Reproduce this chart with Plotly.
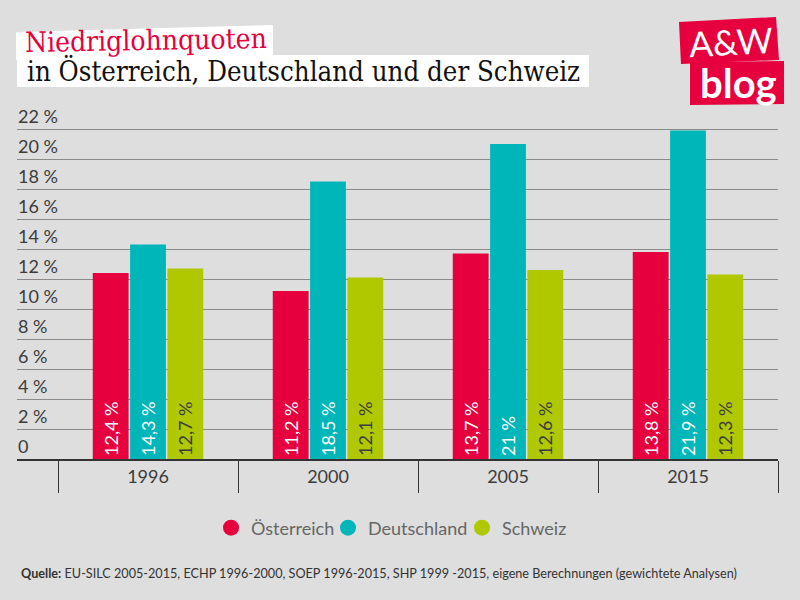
import plotly.graph_objects as go

# Data
years = ['1996', '2000', '2005', '2015']
oesterreich = [12.4, 11.2, 13.7, 13.8]
deutschland = [14.3, 18.5, 21, 21.9]
schweiz = [12.7, 12.1, 12.6, 12.3]
y_ticks = [0, 2, 4, 6, 8, 10, 12, 14, 16, 18, 20, 22]
y_labels = ['0', '2 %', '4 %', '6 %', '8 %', '10 %', '12 %', '14 %', '16 %', '18 %', '20 %', '22 %']

RED = '#e6003e'
TEAL = '#00b6b9'
GREEN = '#afc800'
BG = '#dedede'
DARK = '#3c3c3c'
SANS = 'Lato'
SERIF = 'DejaVu Serif Condensed'


def fmt(values):
    return [f'{v} %'.replace('.', ',') for v in values]


# pixel helpers, the page is 800x600
L, R, T, B = 17, 778, 99, 459


def px(x):
    return (x - L) / (R - L)


def py(y):
    return (B - y) / (B - T)


def poly(points, color):
    path = 'M ' + ' L '.join(f'{px(x):.4f} {py(y):.4f}' for x, y in points) + ' Z'
    return dict(type='path', path=path, xref='paper', yref='paper',
                fillcolor=color, line=dict(width=0), layer='below')


def note(x, y, text, size, color, family=SANS, anchor='left', angle=0):
    return dict(x=px(x), y=py(y), xref='paper', yref='paper', text=text, showarrow=False,
                xanchor=anchor, yanchor='middle', textangle=angle,
                font=dict(size=size, color=color, family=family))


def legend_at(x):
    return dict(x=px(x), xanchor='left', y=py(528), yanchor='middle',
                font=dict(size=18, color='#666666', family=SANS), bgcolor='rgba(0,0,0,0)')


fig = go.Figure()

for name, values, color, text_color, legend_id in [('Österreich', oesterreich, RED, 'white', 'legend'),
                                                   ('Deutschland', deutschland, TEAL, 'white', 'legend2'),
                                                   ('Schweiz', schweiz, GREEN, DARK, 'legend3')]:
    fig.add_trace(go.Bar(
        x=years, y=values, name=name, marker=dict(color=color, line=dict(width=0)),
        text=fmt(values), textposition='inside', insidetextanchor='start', textangle=-90,
        textfont=dict(size=18, color=text_color, family=SANS),
        constraintext='none', cliponaxis=False, showlegend=False, hoverinfo='skip'))
    # round legend entries
    fig.add_trace(go.Scatter(x=[None], y=[None], mode='markers', name=name, legend=legend_id,
                             marker=dict(size=16, color=color, symbol='circle')))

shapes = [
    poly([(16, 32), (273, 25), (273, 56), (16, 60)], 'white'),
    poly([(17, 55), (589, 55), (589, 87), (17, 87)], 'white'),
    poly([(679, 22), (776, 17), (779, 60), (681, 64)], RED),
    poly([(690, 62), (784, 61), (784, 104), (690, 105)], RED),
]

annotations = [
    note(23, 41, 'Niedriglohnquoten', 28, RED, SERIF, angle=-1),
    note(25, 70, 'in Österreich, Deutschland und der Schweiz', 27.4, '#111111', SERIF),
    note(731, 41, 'A&W', 35, 'white', 'Lato', anchor='center', angle=-3),
    note(738, 83, '<b>blog</b>', 40, 'white', 'Lato', anchor='center'),
    note(19, 573, '<b>Quelle:</b> EU-SILC 2005-2015, ECHP 1996-2000, SOEP 1996-2015, '
         'SHP 1999 -2015, eigene Berechnungen (gewichtete Analysen)', 12.65, '#333333'),
]

fig.update_layout(
    width=800, height=600,
    margin=dict(l=L, r=800 - R, t=T, b=600 - B, autoexpand=False),
    paper_bgcolor=BG, plot_bgcolor=BG,
    font=dict(family=SANS, color=DARK),
    barmode='group', bargap=0.378, bargroupgap=0.04,
    shapes=shapes, annotations=annotations,
    showlegend=True,
    legend=legend_at(211), legend2=legend_at(328), legend3=legend_at(462),
    xaxis=dict(type='category', categoryorder='array', categoryarray=years,
               range=[-0.7278, 3.5], tickson='boundaries', ticks='outside', ticklen=32,
               tickcolor='#333333', tickwidth=1, showline=True, linecolor='#333333', linewidth=2,
               showgrid=False, tickfont=dict(size=18, color=DARK, family=SANS)),
    yaxis=dict(range=[0, 24], tickvals=y_ticks, ticktext=y_labels, ticklabelposition='inside top',
               ticks='', showgrid=True, gridcolor='#8a8a8a', gridwidth=1, zeroline=False,
               ticklabelstandoff=-2, showline=False, tickfont=dict(size=18, color=DARK, family=SANS)),
)

# the page has a default body margin, drop it so the chart fills the window
fig.write_html('out.html', config={'displayModeBar': False},
               post_script="document.body.style.margin='0';")
